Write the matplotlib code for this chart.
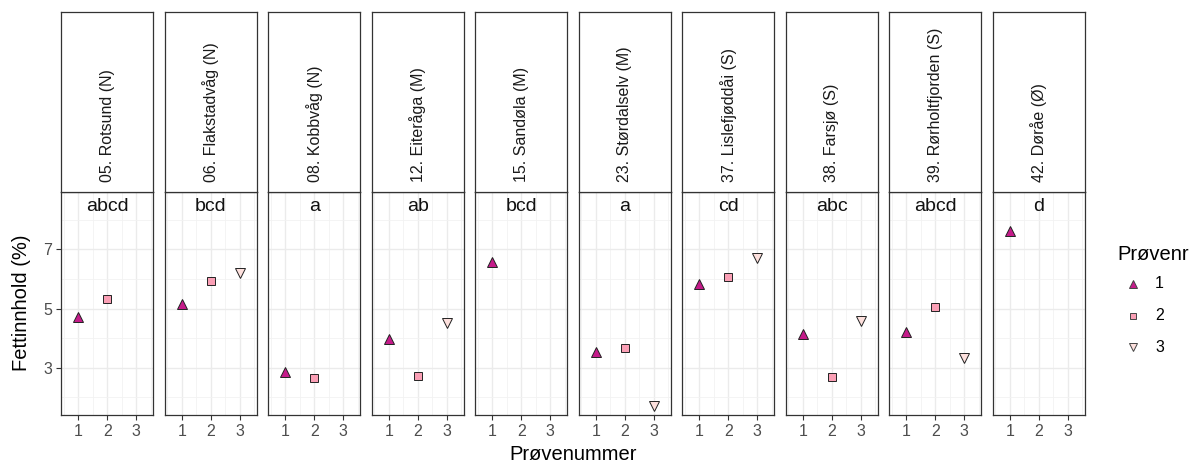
import numpy as np
from matplotlib import pyplot as plt

plt.rcParams['font.family'] = ['Liberation Sans', 'DejaVu Sans']

# data
sites = ['05. Rotsund (N)', '06. Flakstadvåg (N)', '08. Kobbvåg (N)', '12. Eiteråga (M)',
         '15. Sandøla (M)', '23. Størdalselv (M)', '37. Lislefjøddåi (S)', '38. Farsjø (S)',
         '39. Rørholtfjorden (S)', '42. Døråe (Ø)']
letters = ['abcd', 'bcd', 'a', 'ab', 'bcd', 'a', 'cd', 'abc', 'abcd', 'd']
fat1 = [4.70, 5.15, 2.87, 3.98, 6.57, 3.54, 5.82, 4.14, 4.20, 7.62]
fat2 = [5.31, 5.92, 2.64, 2.71, None, 3.66, 6.06, 2.69, 5.06, None]
fat3 = [None, 6.21, None, 4.52, None, 1.71, 6.70, 4.57, 3.34, None]
samples = ['1', '2', '3']

fills = ['#C51B8A', '#FA9FB5', '#FDE0DD']
markers = ['^', 's', 'v']
msizes = [7, 5.2, 7]

W, H = 1193, 463
fig = plt.figure(figsize=(W / 100, H / 100), dpi=100)

def px(x0, y0, x1, y1):
    return [x0 / W, 1 - y1 / H, (x1 - x0) / W, (y1 - y0) / H]

left0 = 61
pw = 92.4
gap = 11.1
top, bottom, strip_top = 192.3, 415, 12

for i, site in enumerate(sites):
    x0 = left0 + i * (pw + gap)
    ax = fig.add_axes(px(x0, top, x0 + pw, bottom))
    ax.set_xlim(0.4, 3.6)
    ax.set_ylim(1.4, 8.93)
    ax.set_xticks([1, 2, 3])
    ax.set_xticks([0.5, 1.5, 2.5, 3.5], minor=True)
    ax.set_yticks([3, 5, 7])
    ax.set_yticks([2, 4, 6, 8], minor=True)
    ax.grid(True, which='major', color='#EBEBEB', lw=1.0, zorder=0)
    ax.grid(True, which='minor', color='#F2F2F2', lw=0.6, zorder=0)
    ax.set_axisbelow(True)
    for s in ax.spines.values():
        s.set_color('#333333')
        s.set_linewidth(0.9)
    ax.tick_params(which='minor', length=0)
    ax.tick_params(which='major', length=3.5, color='#333333', width=0.8,
                   labelsize=11.5, labelcolor='#4D4D4D', pad=3)
    if i > 0:
        ax.tick_params(axis='y', left=False, labelleft=False)
    for k, vals in enumerate([fat1, fat2, fat3]):
        if vals[i] is not None:
            ax.plot(k + 1, vals[i], marker=markers[k], ms=msizes[k], mfc=fills[k],
                    mec='#222222', mew=0.7, ls='none', zorder=3)
    ax.text(2, 8.45, letters[i], ha='center', va='center', fontsize=14, color='#111111')

    sx = fig.add_axes(px(x0, strip_top, x0 + pw, top))
    sx.set_xticks([])
    sx.set_yticks([])
    for s in sx.spines.values():
        s.set_color('#333333')
        s.set_linewidth(0.9)
    sx.text(0.5, 0.055, site, rotation=90, ha='center', va='bottom',
            transform=sx.transAxes, fontsize=11.5, color='#1A1A1A')

fig.text(22 / W, 1 - 303 / H, 'Fettinnhold (%)', rotation=90, ha='center', va='center',
         fontsize=14.5)
fig.text(573 / W, 1 - 455 / H, 'Prøvenummer', ha='center', va='center', fontsize=14.5)

# legend
fig.text(1117 / W, 1 - 255 / H, 'Prøvenr', ha='left', va='center', fontsize=14.5)
lax = fig.add_axes(px(1120, 268, 1180, 362))
lax.set_xlim(0, 1)
lax.set_ylim(362, 268)
lax.axis('off')
for k, lab in enumerate(samples):
    yy = 284 + k * 31.5
    lax.plot(0.22, yy, marker=markers[k], ms=msizes[k] - 0.8, mfc=fills[k],
             mec='#444444', mew=0.7, ls='none')
    lax.text(0.66, yy, lab, ha='center', va='center', fontsize=11.5)

fig.savefig('out.png', dpi=100)
